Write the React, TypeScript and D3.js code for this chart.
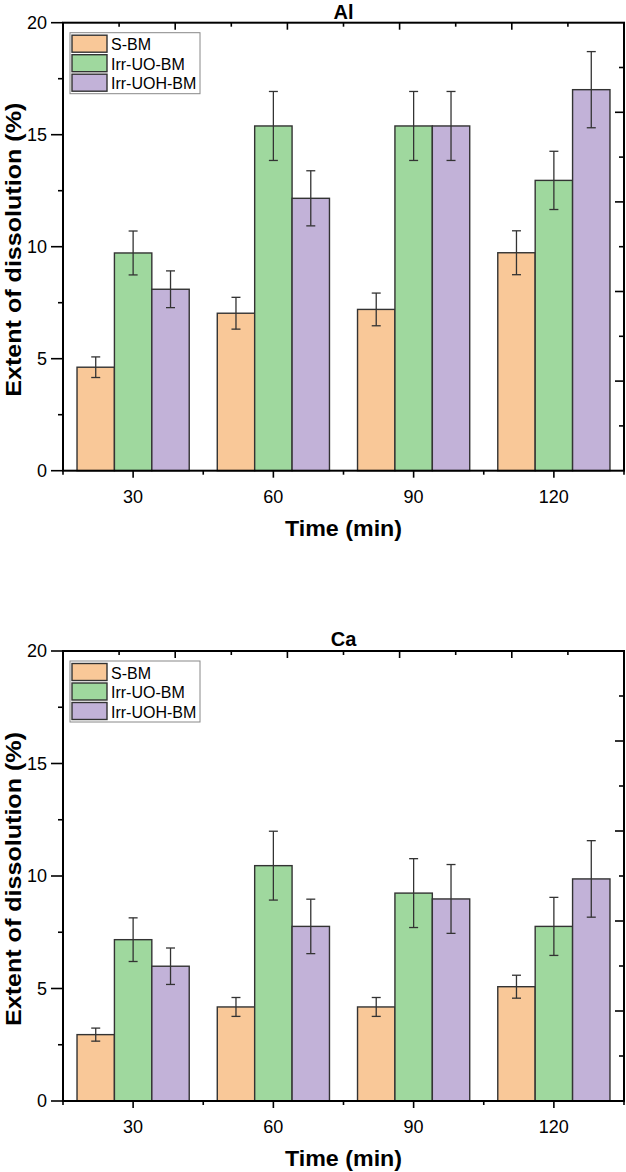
import React from 'react';
import * as d3 from 'd3';

// sampling times (min) and the three treatments
const times = [30, 60, 90, 120];
const seriesNames = ['S-BM', 'Irr-UO-BM', 'Irr-UOH-BM'];
const seriesColors = ['#F9C898', '#9FD89E', '#C2B2D8'];

// Al extent of dissolution (%) and standard deviations
const alSBM = [4.62, 7.03, 7.2, 9.73];
const alSBMErr = [0.46, 0.71, 0.73, 0.98];
const alUO = [9.72, 15.39, 15.39, 12.96];
const alUOErr = [0.98, 1.54, 1.54, 1.3];
const alUOH = [8.1, 12.16, 15.39, 17.01];
const alUOHErr = [0.82, 1.23, 1.54, 1.7];

// Ca extent of dissolution (%) and standard deviations
const caSBM = [2.95, 4.18, 4.18, 5.08];
const caSBMErr = [0.29, 0.42, 0.42, 0.51];
const caUO = [7.17, 10.46, 9.24, 7.76];
const caUOErr = [0.97, 1.53, 1.53, 1.29];
const caUOH = [5.99, 7.76, 8.98, 9.87];
const caUOHErr = [0.81, 1.21, 1.53, 1.7];

const yTicks = [0, 5, 10, 15, 20];

const W = 626;
const H = 1172;
const left = 63;
const right = 624;
const font = '"Liberation Sans", Arial, sans-serif';

type PanelProps = {
  title: string;
  top: number;
  bottom: number;
  values: number[][];
  errors: number[][];
};

const Panel = ({title, top, bottom, values, errors}: PanelProps) => {
  const x = d3.scaleLinear().domain([15, 135]).range([left, right]);
  const y = d3.scaleLinear().domain([0, 20]).range([bottom, top]);
  // bars sit side by side inside a 24 min wide group
  const inner = d3.scaleBand().domain(seriesNames).range([-12, 12]).padding(0);
  const xMinor = d3.range(15, 136, 15);
  const yMinor = d3.range(0, 20.1, 2.5);
  const topTicks = d3.scaleLinear().domain([0, 10]).range([left, right]);
  const rightTicks = d3.range(2, 20, 2);
  const midY = (top + bottom) / 2;

  return (
    <g>
      {/* bars */}
      {seriesNames.map((name, s) => (
        <g key={name}>
          {times.map((t, i) => {
            const x0 = x(t + (inner(name) as number));
            const x1 = x(t + (inner(name) as number) + inner.bandwidth());
            const v = values[s][i];
            return (
              <rect key={t} x={x0} y={y(v)} width={x1 - x0} height={y(0) - y(v)}
                fill={seriesColors[s]} stroke="#333" strokeWidth={1.4} />
            );
          })}
        </g>
      ))}
      {/* error bars */}
      {seriesNames.map((name, s) => (
        <g key={name} stroke="#333" strokeWidth={1.3}>
          {times.map((t, i) => {
            const cx = x(t + (inner(name) as number) + inner.bandwidth() / 2);
            const hi = y(values[s][i] + errors[s][i]);
            const lo = y(values[s][i] - errors[s][i]);
            return (
              <g key={t}>
                <line x1={cx} x2={cx} y1={hi} y2={lo} />
                <line x1={cx - 4.5} x2={cx + 4.5} y1={hi} y2={hi} />
                <line x1={cx - 4.5} x2={cx + 4.5} y1={lo} y2={lo} />
              </g>
            );
          })}
        </g>
      ))}

      {/* frame */}
      <rect x={left} y={top} width={right - left} height={bottom - top}
        fill="none" stroke="#000" strokeWidth={2} />

      {/* left axis */}
      {yMinor.map(v => (
        <line key={v} x1={left} x2={left - (v % 5 === 0 ? 12 : 5)} y1={y(v)} y2={y(v)}
          stroke="#000" strokeWidth={1.6} />
      ))}
      {yTicks.map(v => (
        <text key={v} x={left - 16} y={y(v)} dy="0.36em" textAnchor="end"
          fontFamily={font} fontSize={18} fill="#000">{v}</text>
      ))}

      {/* right axis, inward ticks */}
      {rightTicks.map(v => (
        <line key={v} x1={right} x2={right - (v % 4 === 0 ? 9 : 5)} y1={y(v)} y2={y(v)}
          stroke="#000" strokeWidth={1.6} />
      ))}

      {/* top axis, inward ticks */}
      {d3.range(1, 10).map(k => (
        <line key={k} x1={topTicks(k)} x2={topTicks(k)} y1={top} y2={top + (k % 2 === 0 ? 7 : 4)}
          stroke="#000" strokeWidth={1.6} />
      ))}

      {/* bottom axis */}
      {xMinor.map(v => (
        <line key={v} x1={x(v)} x2={x(v)} y1={bottom} y2={bottom + (v % 30 === 0 ? 7 : 4)}
          stroke="#000" strokeWidth={1.6} />
      ))}
      {times.map(t => (
        <text key={t} x={x(t)} y={bottom + 32} textAnchor="middle"
          fontFamily={font} fontSize={18} fill="#000">{t}</text>
      ))}

      {/* titles */}
      <text x={(left + right) / 2} y={Math.max(top - 5, 19)} textAnchor="middle" fontFamily={font}
        fontSize={20} fontWeight="bold" fill="#000">{title}</text>
      <text x={(left + right) / 2} y={bottom + 65} textAnchor="middle" fontFamily={font}
        fontSize={22} fontWeight="bold" fill="#000" textLength={117} lengthAdjust="spacingAndGlyphs">Time (min)</text>
      <text transform={`translate(21,${midY + 3}) rotate(-90)`} textAnchor="middle" fontFamily={font}
        fontSize={22} fontWeight="bold" fill="#000" textLength={294} lengthAdjust="spacingAndGlyphs">
        Extent of dissolution (%)
      </text>

      {/* legend */}
      <g transform={`translate(${left + 7},${top + 10})`}>
        <rect x={0} y={0} width={130} height={61} fill="#fff" stroke="#888" strokeWidth={1} />
        {seriesNames.map((name, s) => (
          <g key={name} transform={`translate(2,${2.5 + s * 19.5})`}>
            <rect x={0} y={0} width={35} height={17} fill={seriesColors[s]} stroke="#333" strokeWidth={1.4} />
            <text x={39} y={15} fontFamily={font} fontSize={16} fill="#000">{name}</text>
          </g>
        ))}
      </g>
    </g>
  );
};

export default function App() {
  return (
    <svg width={W} height={H} style={{position: 'absolute', left: 0, top: 0, background: '#fff'}}>
      <Panel title="Al" top={22.7} bottom={470.7}
        values={[alSBM, alUO, alUOH]} errors={[alSBMErr, alUOErr, alUOHErr]} />
      <Panel title="Ca" top={651} bottom={1101}
        values={[caSBM, caUO, caUOH]} errors={[caSBMErr, caUOErr, caUOHErr]} />
    </svg>
  );
}
